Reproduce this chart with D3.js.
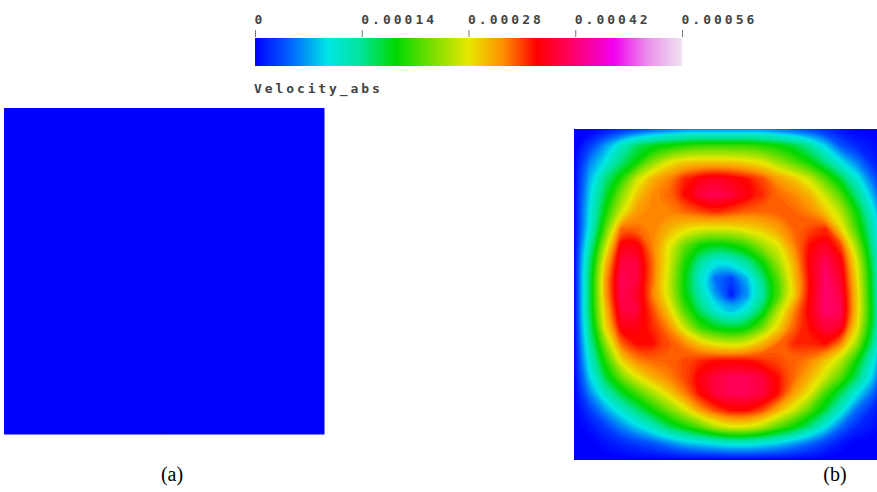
<!DOCTYPE html>
<html>
<head>
<meta charset="utf-8">
<script src="https://cdn.jsdelivr.net/npm/d3@7"></script>
<style>
    body { margin: 0; background: #fff; }
</style>
</head>
<body>
<div id="chart"></div>
<script>

// colour bar
var tickValues = [0, 0.00014, 0.00028, 0.00042, 0.00056];
var tickLabels = ['0', '0.00014', '0.00028', '0.00042', '0.00056'];
var colourStops = [0, 0.08, 0.17, 0.25, 0.33, 0.42, 0.5, 0.58, 0.66, 0.74, 0.84, 0.92, 1];
var colourRamp = ['#0000ff', '#0060ff', '#00e6e6', '#00e496', '#00d800', '#80e000', '#e8e800',
                  '#ff9000', '#ff0000', '#ff0064', '#f000f0', '#ea90ea', '#f0e4f0'];
var fieldName = 'Velocity_abs';
var panelLabels = ['(a)', '(b)'];

// velocity magnitude, in units of 1e-5
var unit = 1e-5;
var velocityA = [
    [0, 0],
    [0, 0]
];
var velocityB = [
    [0, 0, 1, 2, 3, 4, 5, 6, 6, 6, 6, 6, 6, 5, 4, 3, 2, 1, 0, 0, 0],
    [0, 3, 7, 12, 16, 18, 19, 20, 21, 21, 21, 21, 20, 19, 17, 14, 9, 4, 2, 1, 0],
    [0, 6, 10, 15, 19, 24, 28, 30, 30, 30, 30, 29, 28, 25, 22, 19, 15, 10, 6, 2, 0],
    [0, 8, 15, 20, 27, 31, 33, 36, 38, 39, 38, 37, 35, 32, 30, 27, 22, 17, 11, 5, 1],
    [0, 9, 17, 24, 30, 33, 34, 37, 40, 41, 40, 38, 36, 34, 33, 31, 27, 22, 15, 8, 2],
    [0, 10, 19, 27, 32, 33, 33, 34, 35, 36, 35, 34, 34, 34, 34, 33, 30, 26, 19, 11, 3],
    [0, 10, 22, 34, 34, 33, 31, 29, 28, 28, 28, 29, 30, 32, 34, 35, 36, 29, 21, 13, 3],
    [0, 13, 26, 38, 38, 33, 28, 23, 19, 18, 19, 21, 25, 28, 33, 37, 39, 35, 25, 14, 3],
    [0, 15, 30, 40, 40, 34, 28, 20, 14, 10, 11, 14, 19, 25, 31, 38, 41, 38, 28, 16, 3],
    [0, 16, 32, 41, 40, 34, 27, 19, 11, 5, 3, 8, 15, 22, 30, 37, 42, 39, 29, 17, 3],
    [0, 16, 32, 41, 39, 33, 27, 19, 13, 7, 1, 6, 13, 21, 29, 37, 42, 40, 30, 17, 3],
    [0, 16, 30, 40, 40, 35, 30, 22, 16, 11, 8, 11, 17, 26, 33, 38, 42, 41, 30, 18, 3],
    [0, 15, 29, 38, 38, 36, 33, 27, 21, 18, 17, 18, 23, 29, 34, 37, 40, 39, 29, 17, 3],
    [0, 13, 24, 34, 37, 37, 35, 33, 30, 28, 27, 28, 31, 34, 36, 36, 37, 33, 25, 15, 2],
    [0, 11, 20, 29, 33, 34, 34, 35, 36, 37, 37, 37, 36, 35, 34, 33, 30, 26, 19, 11, 2],
    [0, 9, 17, 23, 28, 31, 33, 35, 38, 40, 41, 41, 40, 37, 34, 31, 27, 22, 16, 9, 1],
    [0, 6, 12, 17, 21, 25, 29, 33, 37, 40, 41, 41, 40, 37, 32, 28, 21, 16, 10, 5, 0],
    [0, 3, 7, 11, 15, 19, 23, 27, 32, 35, 37, 37, 35, 31, 27, 22, 17, 11, 5, 2, 0],
    [0, 1, 3, 6, 9, 12, 16, 19, 22, 26, 28, 28, 26, 22, 19, 15, 10, 5, 2, 1, 0],
    [0, 0, 1, 2, 3, 4, 6, 8, 9, 10, 11, 11, 10, 9, 7, 5, 3, 1, 0, 0, 0],
    [0, 0, 0, 0, 0, 0, 0, 0, 0, 0, 0, 0, 0, 0, 0, 0, 0, 0, 0, 0, 0]
];

var width = 877;
var height = 492;
var vMax = tickValues[tickValues.length - 1];

var svg = d3.select('#chart').append('svg')
    .attr('width', width)
    .attr('height', height);

var colour = d3.scaleLinear()
    .domain(colourStops.map(t => t * vMax))
    .range(colourRamp)
    .clamp(true);

// ---- colour bar
var bar = { x0: 255, x1: 682, y: 38, h: 28 };
var barScale = d3.scaleLinear().domain([0, vMax]).range([bar.x0, bar.x1]);

var grad = svg.append('defs').append('linearGradient')
    .attr('id', 'ramp')
    .attr('x1', '0%').attr('x2', '100%');
grad.selectAll('stop')
    .data(colourStops)
    .enter().append('stop')
    .attr('offset', d => (d * 100) + '%')
    .attr('stop-color', (d, i) => colourRamp[i]);

svg.append('rect')
    .attr('x', bar.x0).attr('y', bar.y)
    .attr('width', bar.x1 - bar.x0).attr('height', bar.h)
    .attr('fill', 'url(#ramp)');

var axis = d3.axisTop(barScale)
    .tickValues(tickValues)
    .tickSize(7)
    .tickFormat((d, i) => tickLabels[i]);

var axisG = svg.append('g')
    .attr('transform', 'translate(0,' + (bar.y - 1) + ')')
    .call(axis);
axisG.select('.domain').remove();
axisG.selectAll('line').attr('stroke', '#777');
axisG.selectAll('text')
    .attr('text-anchor', 'start')
    .attr('dx', -1)
    .attr('y', -13)
    .style('font-family', 'DejaVu Sans Mono')
    .style('font-size', '13px')
    .style('font-weight', 'bold')
    .style('letter-spacing', '3px')
    .attr('fill', '#444');

svg.append('text')
    .attr('x', bar.x0 - 1)
    .attr('y', 93)
    .style('font-family', 'DejaVu Sans Mono')
    .style('font-size', '13px')
    .style('font-weight', 'bold')
    .style('letter-spacing', '2.9px')
    .attr('fill', '#444')
    .text(fieldName);

// ---- panel (a): field is zero everywhere
var ax = d3.scaleBand().domain(d3.range(velocityA[0].length)).range([4, 324]);
var ay = d3.scaleBand().domain(d3.range(velocityA.length)).range([108, 434]);
velocityA.forEach(function(row, j) {
    svg.append('g').selectAll('rect')
        .data(row)
        .enter().append('rect')
        .attr('x', (d, i) => ax(i))
        .attr('y', ay(j))
        .attr('width', ax.bandwidth() + 0.5)
        .attr('height', ay.bandwidth() + 0.5)
        .attr('fill', d => colour(d * unit));
});

// ---- panel (b): filled contours of the grid
var nx = velocityB[0].length, ny = velocityB.length;
var panelB = { x0: 574, x1: 888, y0: 129, y1: 460 };
var gx = d3.scaleLinear().domain([0.5, nx - 0.5]).range([panelB.x0, panelB.x1]);
var gy = d3.scaleLinear().domain([0.5, ny - 0.5]).range([panelB.y0, panelB.y1]);

svg.select('defs').append('clipPath').attr('id', 'clipB')
    .append('rect')
    .attr('x', panelB.x0).attr('y', panelB.y0)
    .attr('width', panelB.x1 - panelB.x0).attr('height', panelB.y1 - panelB.y0);

var flat = [];
velocityB.forEach(row => row.forEach(v => flat.push(v * unit)));

var contours = d3.contours()
    .size([nx, ny])
    .thresholds(d3.range(0, vMax, 0.000004))(flat);

var ringLine = d3.line()
    .x(p => gx(p[0]))
    .y(p => gy(p[1]))
    .curve(d3.curveBasisClosed);

var smoothPath = function(geom) {
    return geom.coordinates.map(poly =>
        poly.map(ring => ringLine(ring.slice(0, -1))).join('')
    ).join('');
};

var gB = svg.append('g').attr('clip-path', 'url(#clipB)');
gB.append('rect')
    .attr('x', panelB.x0).attr('y', panelB.y0)
    .attr('width', panelB.x1 - panelB.x0).attr('height', panelB.y1 - panelB.y0)
    .attr('fill', colour(0));
gB.selectAll('path')
    .data(contours)
    .enter().append('path')
    .attr('d', smoothPath)
    .attr('fill-rule', 'evenodd')
    .attr('fill', d => colour(d.value));

// ---- panel captions
svg.selectAll('.caption')
    .data(panelLabels)
    .enter().append('text')
    .attr('class', 'caption')
    .attr('x', (d, i) => i === 0 ? 172 : 835)
    .attr('y', 481)
    .attr('text-anchor', 'middle')
    .style('font-family', 'Liberation Serif')
    .style('font-size', '20px')
    .attr('fill', '#000')
    .text(d => d);

</script>
</body>
</html>
